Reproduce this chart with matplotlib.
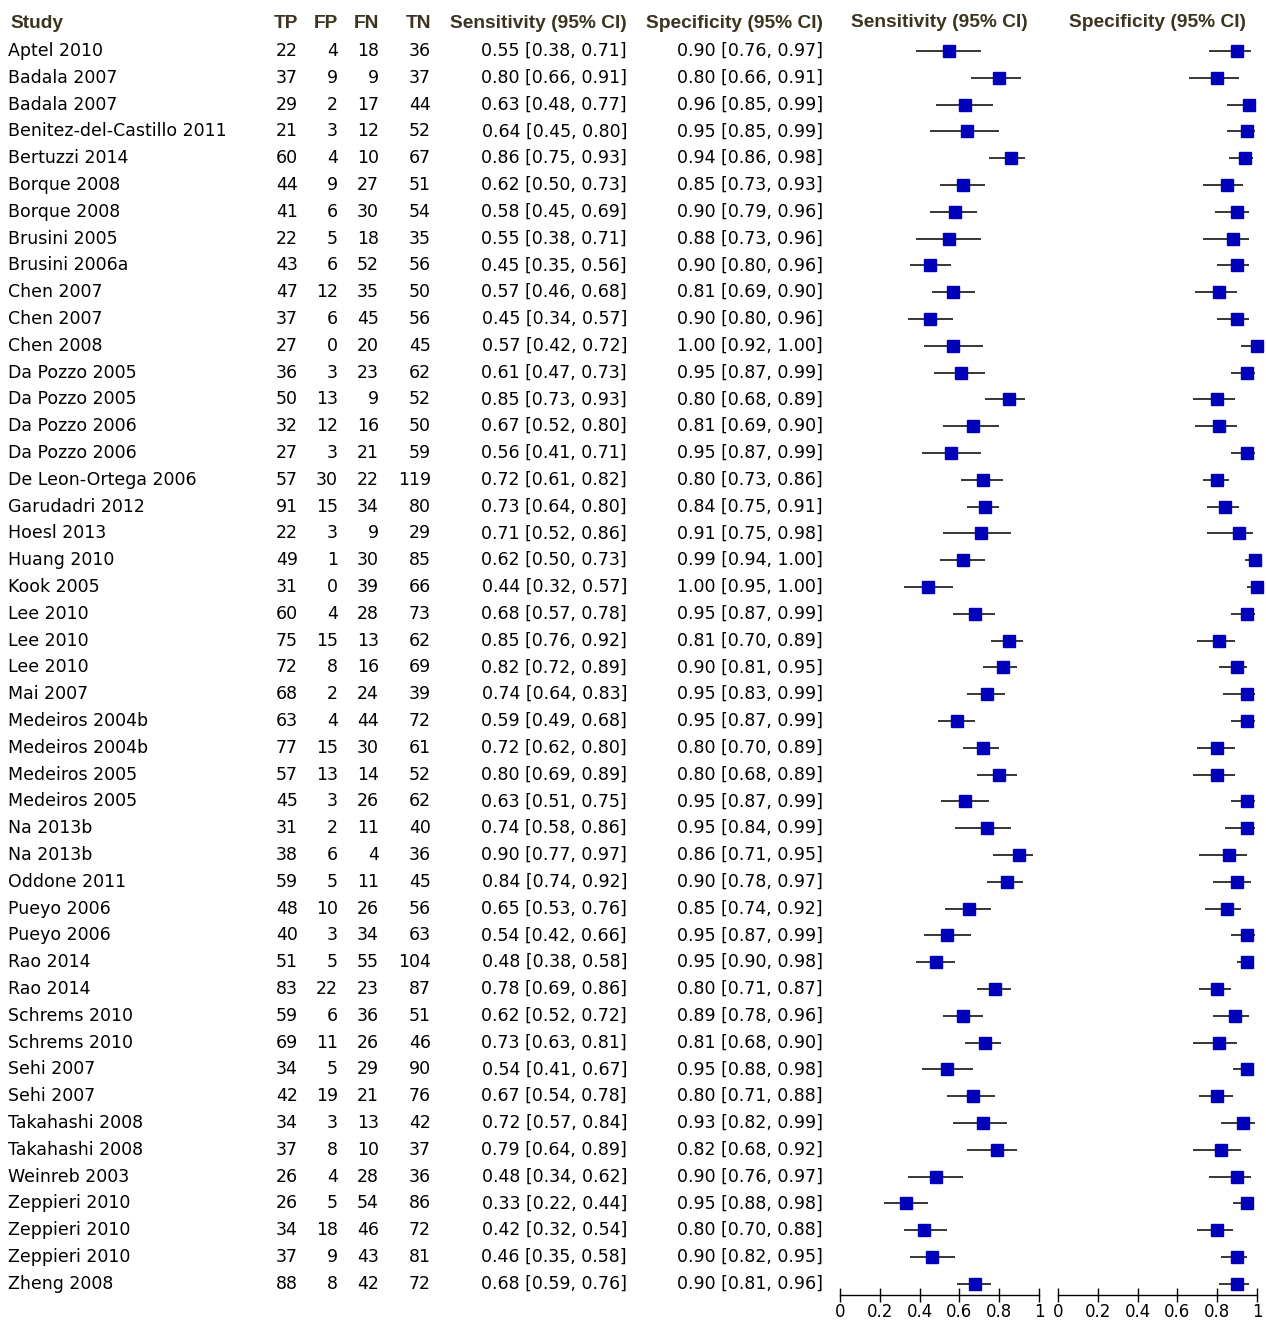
"""Paired forest plot of sensitivity and specificity for 47 diagnostic-accuracy studies."""
import matplotlib

matplotlib.use("Agg")
import matplotlib.pyplot as plt

OUT_PNG = "out.png"

studies = [
    "Aptel 2010", "Badala 2007", "Badala 2007", "Benitez-del-Castillo 2011",
    "Bertuzzi 2014", "Borque 2008", "Borque 2008", "Brusini 2005", "Brusini 2006a",
    "Chen 2007", "Chen 2007", "Chen 2008", "Da Pozzo 2005", "Da Pozzo 2005",
    "Da Pozzo 2006", "Da Pozzo 2006", "De Leon-Ortega 2006", "Garudadri 2012",
    "Hoesl 2013", "Huang 2010", "Kook 2005", "Lee 2010", "Lee 2010", "Lee 2010",
    "Mai 2007", "Medeiros 2004b", "Medeiros 2004b", "Medeiros 2005", "Medeiros 2005",
    "Na 2013b", "Na 2013b", "Oddone 2011", "Pueyo 2006", "Pueyo 2006", "Rao 2014",
    "Rao 2014", "Schrems 2010", "Schrems 2010", "Sehi 2007", "Sehi 2007",
    "Takahashi 2008", "Takahashi 2008", "Weinreb 2003", "Zeppieri 2010",
    "Zeppieri 2010", "Zeppieri 2010", "Zheng 2008",
]

tp = [22, 37, 29, 21, 60, 44, 41, 22, 43, 47, 37, 27, 36, 50, 32, 27, 57, 91, 22, 49,
      31, 60, 75, 72, 68, 63, 77, 57, 45, 31, 38, 59, 48, 40, 51, 83, 59, 69, 34, 42,
      34, 37, 26, 26, 34, 37, 88]
fp = [4, 9, 2, 3, 4, 9, 6, 5, 6, 12, 6, 0, 3, 13, 12, 3, 30, 15, 3, 1,
      0, 4, 15, 8, 2, 4, 15, 13, 3, 2, 6, 5, 10, 3, 5, 22, 6, 11, 5, 19,
      3, 8, 4, 5, 18, 9, 8]
fn = [18, 9, 17, 12, 10, 27, 30, 18, 52, 35, 45, 20, 23, 9, 16, 21, 22, 34, 9, 30,
      39, 28, 13, 16, 24, 44, 30, 14, 26, 11, 4, 11, 26, 34, 55, 23, 36, 26, 29, 21,
      13, 10, 28, 54, 46, 43, 42]
tn = [36, 37, 44, 52, 67, 51, 54, 35, 56, 50, 56, 45, 62, 52, 50, 59, 119, 80, 29, 85,
      66, 73, 62, 69, 39, 72, 61, 52, 62, 40, 36, 45, 56, 63, 104, 87, 51, 46, 90, 76,
      42, 37, 36, 86, 72, 81, 72]

sens = [0.55, 0.80, 0.63, 0.64, 0.86, 0.62, 0.58, 0.55, 0.45, 0.57, 0.45, 0.57, 0.61,
        0.85, 0.67, 0.56, 0.72, 0.73, 0.71, 0.62, 0.44, 0.68, 0.85, 0.82, 0.74, 0.59,
        0.72, 0.80, 0.63, 0.74, 0.90, 0.84, 0.65, 0.54, 0.48, 0.78, 0.62, 0.73, 0.54,
        0.67, 0.72, 0.79, 0.48, 0.33, 0.42, 0.46, 0.68]
sens_lo = [0.38, 0.66, 0.48, 0.45, 0.75, 0.50, 0.45, 0.38, 0.35, 0.46, 0.34, 0.42, 0.47,
           0.73, 0.52, 0.41, 0.61, 0.64, 0.52, 0.50, 0.32, 0.57, 0.76, 0.72, 0.64, 0.49,
           0.62, 0.69, 0.51, 0.58, 0.77, 0.74, 0.53, 0.42, 0.38, 0.69, 0.52, 0.63, 0.41,
           0.54, 0.57, 0.64, 0.34, 0.22, 0.32, 0.35, 0.59]
sens_hi = [0.71, 0.91, 0.77, 0.80, 0.93, 0.73, 0.69, 0.71, 0.56, 0.68, 0.57, 0.72, 0.73,
           0.93, 0.80, 0.71, 0.82, 0.80, 0.86, 0.73, 0.57, 0.78, 0.92, 0.89, 0.83, 0.68,
           0.80, 0.89, 0.75, 0.86, 0.97, 0.92, 0.76, 0.66, 0.58, 0.86, 0.72, 0.81, 0.67,
           0.78, 0.84, 0.89, 0.62, 0.44, 0.54, 0.58, 0.76]

spec = [0.90, 0.80, 0.96, 0.95, 0.94, 0.85, 0.90, 0.88, 0.90, 0.81, 0.90, 1.00, 0.95,
        0.80, 0.81, 0.95, 0.80, 0.84, 0.91, 0.99, 1.00, 0.95, 0.81, 0.90, 0.95, 0.95,
        0.80, 0.80, 0.95, 0.95, 0.86, 0.90, 0.85, 0.95, 0.95, 0.80, 0.89, 0.81, 0.95,
        0.80, 0.93, 0.82, 0.90, 0.95, 0.80, 0.90, 0.90]
spec_lo = [0.76, 0.66, 0.85, 0.85, 0.86, 0.73, 0.79, 0.73, 0.80, 0.69, 0.80, 0.92, 0.87,
           0.68, 0.69, 0.87, 0.73, 0.75, 0.75, 0.94, 0.95, 0.87, 0.70, 0.81, 0.83, 0.87,
           0.70, 0.68, 0.87, 0.84, 0.71, 0.78, 0.74, 0.87, 0.90, 0.71, 0.78, 0.68, 0.88,
           0.71, 0.82, 0.68, 0.76, 0.88, 0.70, 0.82, 0.81]
spec_hi = [0.97, 0.91, 0.99, 0.99, 0.98, 0.93, 0.96, 0.96, 0.96, 0.90, 0.96, 1.00, 0.99,
           0.89, 0.90, 0.99, 0.86, 0.91, 0.98, 1.00, 1.00, 0.99, 0.89, 0.95, 0.99, 0.99,
           0.89, 0.89, 0.99, 0.99, 0.95, 0.97, 0.92, 0.99, 0.98, 0.87, 0.96, 0.90, 0.98,
           0.88, 0.99, 0.92, 0.97, 0.98, 0.88, 0.95, 0.96]

axis_ticks = [0, 0.2, 0.4, 0.6, 0.8, 1]
axis_labels = ["0", "0.2", "0.4", "0.6", "0.8", "1"]

# layout in pixels of the 1266 x 1320 canvas
W, H = 1266, 1320
ROW0, ROW_STEP = 51, 26.8
AXIS_Y = 1295
HEAD_Y = 23

HEAD_COLOR = "#3b3420"
SQUARE_COLOR = "#0000bb"
BODY_FONT = ["DejaVu Sans"]
HEAD_FONT = ["Liberation Sans", "DejaVu Sans"]
FS = 12.5
HEAD_FS = 13.8


def row_of(ypix):
    return (ypix - ROW0) / ROW_STEP


def fmt_ci(est, lo, hi):
    return f"{est:.2f} [{lo:.2f}, {hi:.2f}]"


def forest(fig, x0, x1, title, est, lo, hi):
    ax = fig.add_axes([x0 / W, (H - AXIS_Y) / H, (x1 - x0) / W, AXIS_Y / H])
    rows = list(range(len(est)))
    ax.hlines(rows, lo, hi, color="black", lw=1.1, clip_on=False, zorder=2)
    ax.plot(est, rows, "s", color=SQUARE_COLOR, ms=8.6, mec=SQUARE_COLOR,
            clip_on=False, zorder=3)
    ax.set_xlim(0, 1)
    ax.set_ylim(row_of(AXIS_Y), row_of(0))
    ax.set_xticks(axis_ticks)
    ax.set_xticklabels(axis_labels, family=BODY_FONT)
    ax.tick_params(axis="x", direction="inout", length=10, width=1.0,
                   labelsize=12, pad=0.5, colors="black")
    ax.set_yticks([])
    for side in ("top", "left", "right"):
        ax.spines[side].set_visible(False)
    ax.spines["bottom"].set_linewidth(1.0)
    ax.patch.set_alpha(0)
    ax.text(0.5, row_of(HEAD_Y), title, ha="center", va="center", fontsize=HEAD_FS,
            fontweight="bold", color=HEAD_COLOR, family=HEAD_FONT)
    return ax


def main():
    fig = plt.figure(figsize=(W / 100, H / 100), dpi=100)
    fig.patch.set_facecolor("white")

    tab = fig.add_axes([0, 0, 1, 1])
    tab.set_xlim(0, W)
    tab.set_ylim(row_of(H), row_of(0))
    tab.axis("off")

    head_y = row_of(HEAD_Y)
    head = dict(va="center", fontsize=HEAD_FS, fontweight="bold", color=HEAD_COLOR,
                family=HEAD_FONT)
    tab.text(10, head_y, "Study", ha="left", **head)
    for x, lab in [(298, "TP"), (338, "FP"), (379, "FN"), (431, "TN"),
                   (627, "Sensitivity (95% CI)"), (823, "Specificity (95% CI)")]:
        tab.text(x, head_y, lab, ha="right", **head)

    body = dict(va="center", fontsize=FS, color="black", family=BODY_FONT)
    for i, name in enumerate(studies):
        tab.text(8, i, name, ha="left", **body)
        tab.text(298, i, str(tp[i]), ha="right", **body)
        tab.text(338, i, str(fp[i]), ha="right", **body)
        tab.text(379, i, str(fn[i]), ha="right", **body)
        tab.text(431, i, str(tn[i]), ha="right", **body)
        tab.text(627, i, fmt_ci(sens[i], sens_lo[i], sens_hi[i]), ha="right", **body)
        tab.text(823, i, fmt_ci(spec[i], spec_lo[i], spec_hi[i]), ha="right", **body)

    forest(fig, 840, 1039, "Sensitivity (95% CI)", sens, sens_lo, sens_hi)
    forest(fig, 1058, 1257, "Specificity (95% CI)", spec, spec_lo, spec_hi)

    fig.savefig(OUT_PNG, dpi=100)


if __name__ == "__main__":
    main()
